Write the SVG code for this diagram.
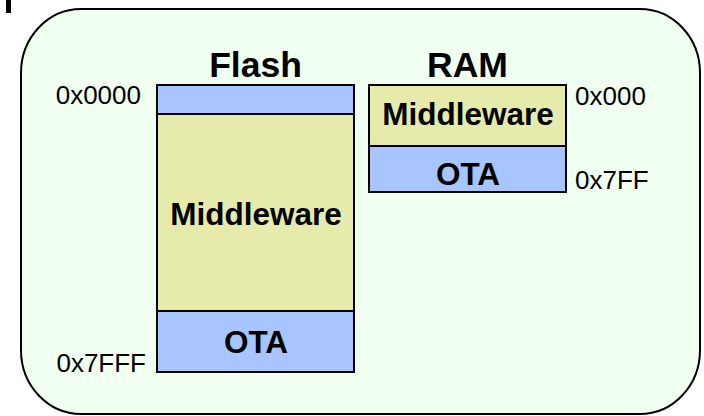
<svg xmlns="http://www.w3.org/2000/svg" width="704" height="416" viewBox="0 0 704 416">
  <style>
    .seg { stroke: #000; stroke-width: 2; }
    .blue { fill: #A8C5FF; }
    .yellow { fill: #E6EBAB; }
    .title { font-family: "Liberation Sans", Arial, sans-serif; font-weight: bold; font-size: 35.5px; text-anchor: middle; }
    .lbl { font-family: "Liberation Sans", Arial, sans-serif; font-weight: bold; font-size: 31.5px; text-anchor: middle; }
    .addr { font-family: "Liberation Sans", Arial, sans-serif; font-size: 26px; }
  </style>
  <rect x="0" y="0" width="704" height="416" fill="#fff"/>
  <rect x="6" y="0" width="5" height="13" fill="#000"/>
  <!-- memory region container -->
  <rect x="21" y="9" width="679" height="405" rx="60" ry="64" fill="#F0FFF0" stroke="#000" stroke-width="2"/>

  <g id="flash">
    <text class="title" x="255.5" y="77">Flash</text>
    <rect class="seg blue" x="157" y="85" width="197" height="29"/>
    <rect class="seg yellow" x="157" y="114" width="197" height="197"/>
    <rect class="seg blue" x="157" y="311" width="197" height="61"/>
    <text class="lbl" x="256" y="225">Middleware</text>
    <text class="lbl" x="256" y="353">OTA</text>
    <text class="addr" x="141" y="104" text-anchor="end">0x0000</text>
    <text class="addr" x="146" y="372" text-anchor="end">0x7FFF</text>
  </g>

  <g id="ram">
    <text class="title" x="467.5" y="77">RAM</text>
    <rect class="seg yellow" x="369" y="85" width="197" height="61"/>
    <rect class="seg blue" x="369" y="146" width="197" height="46"/>
    <text class="lbl" x="468" y="125">Middleware</text>
    <text class="lbl" x="468" y="185">OTA</text>
    <text class="addr" x="575" y="105">0x000</text>
    <text class="addr" x="575" y="189">0x7FF</text>
  </g>

  <g id="connectors"></g>
</svg>
